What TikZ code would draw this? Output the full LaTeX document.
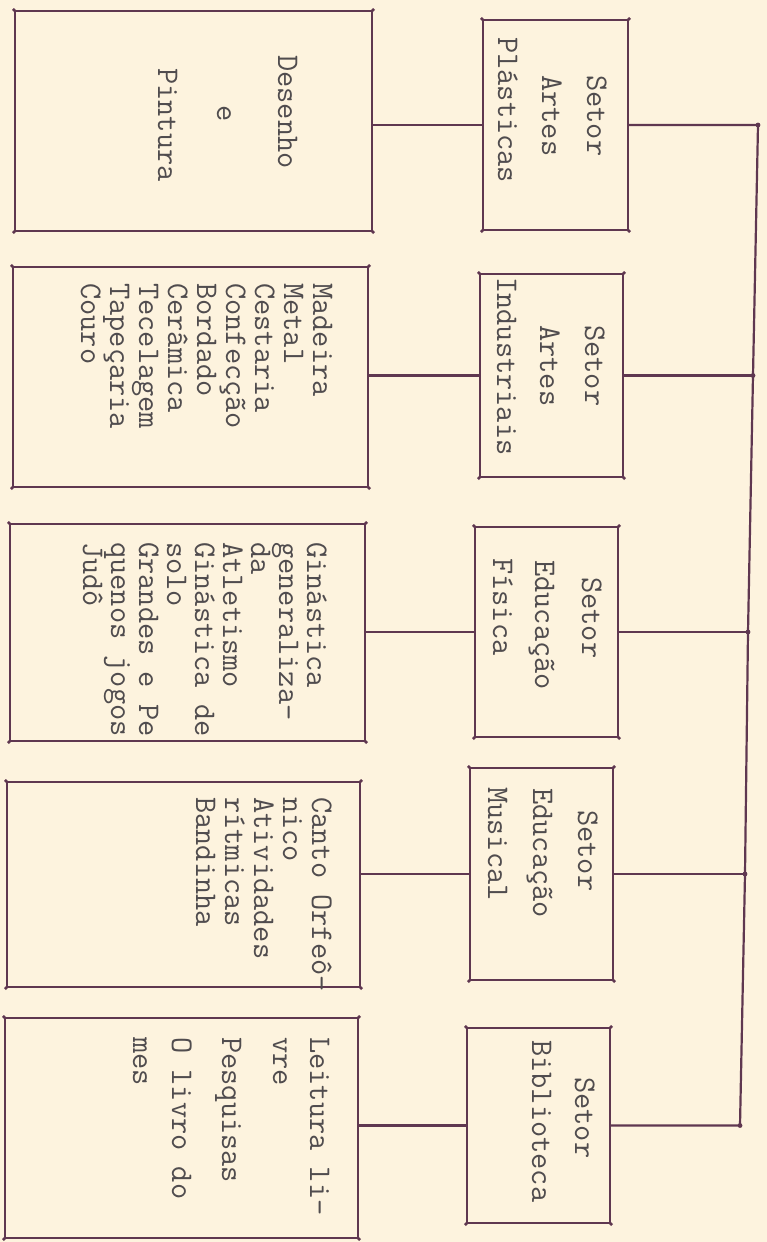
\documentclass[tikz,border=0pt]{standalone}
\usepackage{fontspec}
\definecolor{paper}{RGB}{253,243,222}
\definecolor{ink}{RGB}{95,55,80}
\definecolor{typeink}{RGB}{80,76,78}
\begin{document}
\begin{tikzpicture}[x=1pt,y=-1pt,
  box/.style={draw=ink, line width=2.2pt, rectangle, inner sep=0pt},
  txt/.style={font=\ttfamily\fontsize{31.5}{30}\selectfont, text=typeink, rotate=-90, anchor=base west, inner sep=0pt},
  con/.style={draw=ink, line width=2.2pt}]
\fill[paper] (0,0) rectangle (767,1242);
\useasboundingbox (0,0) rectangle (767,1242);
% big boxes
\node[box, minimum width=357pt, minimum height=220pt] (B1) at (193.5,121) {};
\node[box, minimum width=355pt, minimum height=220pt] (B2) at (190.5,377) {};
\node[box, minimum width=355pt, minimum height=217pt] (B3) at (187.5,632.5) {};
\node[box, minimum width=353pt, minimum height=205pt] (B4) at (183.5,884.5) {};
\node[box, minimum width=353pt, minimum height=220pt] (B5) at (181.5,1128) {};
% small boxes
\node[box, minimum width=145pt, minimum height=210pt] (S1) at (555.5,125) {};
\node[box, minimum width=143pt, minimum height=203pt] (S2) at (551.5,375.5) {};
\node[box, minimum width=143pt, minimum height=210pt] (S3) at (546.5,632) {};
\node[box, minimum width=143pt, minimum height=212pt] (S4) at (541.5,874) {};
\node[box, minimum width=143pt, minimum height=195pt] (S5) at (538.5,1125.5) {};
% corner dots
\foreach \n in {B1,B2,B3,B4,B5,S1,S2,S3,S4,S5}
  \foreach \a in {north east,north west,south east,south west}
    \fill[ink] (\n.\a) circle (1.9pt);
% junctions on the vertical line
\coordinate (J1) at (758,125);
\coordinate (J2) at (753,375.5);
\coordinate (J3) at (748,632);
\coordinate (J4) at (745,874);
\coordinate (J5) at (740,1125.5);
\draw[con] (S1.east) -- (J1) -- (J2) -- (J3) -- (J4) -- (J5) -- (S5.east);
\draw[con] (S2.east) -- (J2);
\draw[con] (S3.east) -- (J3);
\draw[con] (S4.east) -- (J4);
\foreach \j in {J1,J2,J3,J4,J5} \fill[ink] (\j) circle (2.4pt);
% left connectors
\draw[con] (B1.east |- S1.west) -- (S1.west);
\draw[con] (B2.east |- S2.west) -- (S2.west);
\draw[con] (B3.east |- S3.west) -- (S3.west);
\draw[con] (B4.east |- S4.west) -- (S4.west);
\draw[con] (B5.east |- S5.west) -- (S5.west);
% small box texts
\node[txt] (s1a) at (587,75) {Setor};
\node[txt] (s1b) at (542,75) {Artes};
\node[txt] (s1c) at (498,37) {Plásticas};
\node[txt] (s2a) at (585,325) {Setor};
\node[txt] (s2b) at (540,325) {Artes};
\node[txt] (s2c) at (497,277) {Industriais};
\node[txt] (s3a) at (582,577) {Setor};
\node[txt] (s3b) at (535,560) {Educação};
\node[txt] (s3c) at (493,558) {Física};
\node[txt] (s4a) at (578,810) {Setor};
\node[txt] (s4b) at (533,788) {Educação};
\node[txt] (s4c) at (488,787) {Musical};
\node[txt] (s5a) at (575,1077) {Setor};
\node[txt] (s5b) at (532,1040) {Biblioteca};
% big box texts
\node[txt] (b1a) at (278,55) {Desenho};
\node[txt] (b1b) at (217,105) {e};
\node[txt] (b1c) at (158,68) {Pintura};
\foreach \t [count=\i] in {Madeira,Metal,Cestaria,Confecção,Bordado,Cerâmica,Tecelagem,Tapeçaria,Couro}
  \node[txt] (b2-\i) at ({313-29*(\i-1)},283) {\t};
\foreach \t [count=\i] in {Ginástica,generaliza-,da,Atletismo,Ginástica de,solo,Grandes e Pe,quenos jogos,Judô}
  \node[txt] (b3-\i) at ({307-28*(\i-1)},542) {\t};
\foreach \t [count=\i] in {Canto Orfeô-,nico,Atividades,rítmicas,Bandinha}
  \node[txt] (b4-\i) at ({312-29*(\i-1)},797) {\t};
\node[txt] (b5a) at (310,1037) {Leitura li-};
\node[txt] (b5b) at (273,1037) {vre};
\node[txt] (b5c) at (222,1037) {Pesquisas};
\node[txt] (b5d) at (172,1037) {O livro do};
\node[txt] (b5e) at (133,1037) {mes};
\end{tikzpicture}
\end{document}
